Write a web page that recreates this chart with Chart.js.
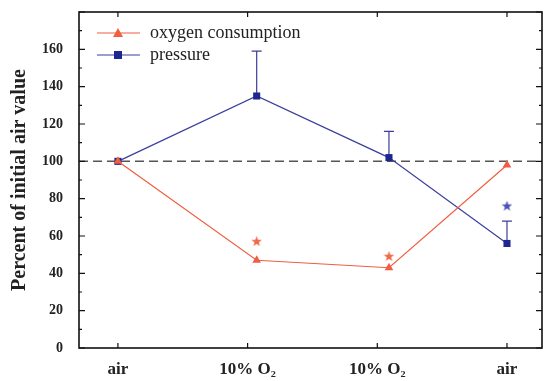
<!DOCTYPE html>
<html>
<head>
<meta charset="utf-8">
<script src="https://cdn.jsdelivr.net/npm/chart.js@4/dist/chart.umd.min.js"></script>
<style>
  html, body { margin: 0; padding: 0; background: #fff; }
  #wrap { width: 547px; height: 381px; position: relative; }
</style>
</head>
<body>
<div id="wrap"><canvas id="c" width="547" height="381"></canvas></div>
<script>
// Conditions along the x axis and where each measurement sits
const categories = ['air', '10% O\u2082', '10% O\u2082', 'air'];
const sampleX = [1, 2.07, 3.09, 4];

// Percent of initial air value
const oxygenConsumption = [100, 47, 43, 98];
const pressure = [100, 135, 102, 56];
const pressureUpperError = [0, 24, 14, 12];

// Significance markers (value at which the star is placed)
const oxygenStars = [null, 57, 49, null];
const pressureStars = [null, null, null, 76];

const yTicks = [0, 20, 40, 60, 80, 100, 120, 140, 160];
const baseline = 100;

const RED = '#ef5e40';
const BLUE = '#3b3f9c';
const BLUE_MARK = '#1e2690';
const SERIF = '"Liberation Serif", "DejaVu Serif", serif';

function starImage(color, size) {
  const cv = document.createElement('canvas');
  cv.width = size; cv.height = size;
  const g = cv.getContext('2d');
  const cx = size / 2, cy = size / 2, R = size / 2, r = R * 0.42;
  g.beginPath();
  for (let i = 0; i < 10; i++) {
    const a = -Math.PI / 2 + i * Math.PI / 5;
    const rr = i % 2 === 0 ? R : r;
    g.lineTo(cx + rr * Math.cos(a), cy + rr * Math.sin(a));
  }
  g.closePath();
  g.fillStyle = color;
  g.fill();
  return cv;
}

const toPoints = (xs, ys) => xs.map((x, i) => ({ x, y: ys[i] })).filter(p => p.y !== null);

// dashed reference line at the initial value
const baselinePlugin = {
  id: 'baseline',
  beforeDatasetsDraw(chart) {
    const { ctx, chartArea, scales } = chart;
    const y = scales.y.getPixelForValue(baseline);
    ctx.save();
    ctx.strokeStyle = '#555';
    ctx.lineWidth = 1.5;
    ctx.setLineDash([9, 5]);
    ctx.beginPath();
    ctx.moveTo(chartArea.left, y);
    ctx.lineTo(chartArea.right, y);
    ctx.stroke();
    ctx.restore();
  }
};

// upper error bars on the pressure series
const errorBarPlugin = {
  id: 'errorBars',
  beforeDatasetsDraw(chart) {
    const { ctx, scales } = chart;
    ctx.save();
    ctx.strokeStyle = BLUE;
    ctx.lineWidth = 1.2;
    pressure.forEach((v, i) => {
      const e = pressureUpperError[i];
      if (!e) return;
      const x = scales.x.getPixelForValue(sampleX[i]);
      const y0 = scales.y.getPixelForValue(v);
      const y1 = scales.y.getPixelForValue(v + e);
      ctx.beginPath();
      ctx.moveTo(x, y0); ctx.lineTo(x, y1);
      ctx.moveTo(x - 5, y1); ctx.lineTo(x + 5, y1);
      ctx.stroke();
    });
    ctx.restore();
  }
};

// boxed frame with inward ticks on all four sides
const framePlugin = {
  id: 'frame',
  afterDraw(chart) {
    const { ctx, chartArea: a, scales } = chart;
    ctx.save();
    ctx.strokeStyle = '#111';
    ctx.lineWidth = 1.6;
    ctx.strokeRect(a.left, a.top, a.right - a.left, a.bottom - a.top);
    ctx.lineWidth = 1.2;
    ctx.beginPath();
    for (let v = 0; v <= 180; v += 10) {
      const y = scales.y.getPixelForValue(v);
      const len = v % 20 === 0 ? 6 : 3;
      ctx.moveTo(a.left, y); ctx.lineTo(a.left + len, y);
      ctx.moveTo(a.right, y); ctx.lineTo(a.right - len, y);
    }
    [1, 2, 3, 4].forEach(v => {
      const x = scales.x.getPixelForValue(v);
      ctx.moveTo(x, a.bottom); ctx.lineTo(x, a.bottom - 5);
      ctx.moveTo(x, a.top); ctx.lineTo(x, a.top + 5);
    });
    ctx.stroke();
    ctx.restore();
  }
};

// legend drawn inside the plot area: line sample, marker, label
const insideLegendPlugin = {
  id: 'insideLegend',
  afterDraw(chart) {
    const { ctx, chartArea: a } = chart;
    const entries = [
      { label: 'oxygen consumption', color: RED, mark: 'tri', fill: RED },
      { label: 'pressure', color: BLUE, mark: 'sq', fill: BLUE_MARK }
    ];
    ctx.save();
    entries.forEach((e, i) => {
      const y = a.top + 21 + i * 22;
      const x0 = a.left + 18, x1 = a.left + 61, xm = a.left + 39;
      ctx.strokeStyle = e.color;
      ctx.lineWidth = 1.2;
      ctx.beginPath();
      ctx.moveTo(x0, y); ctx.lineTo(x1, y);
      ctx.stroke();
      ctx.fillStyle = e.fill;
      ctx.beginPath();
      if (e.mark === 'tri') {
        ctx.moveTo(xm, y - 5); ctx.lineTo(xm + 5, y + 4); ctx.lineTo(xm - 5, y + 4);
        ctx.closePath();
      } else {
        ctx.rect(xm - 4, y - 4, 8, 8);
      }
      ctx.fill();
      ctx.fillStyle = '#222';
      ctx.font = '18px ' + SERIF;
      ctx.textBaseline = 'middle';
      ctx.fillText(e.label, a.left + 71, y);
    });
    ctx.restore();
  }
};

new Chart(document.getElementById('c'), {
  type: 'line',
  data: {
    datasets: [
      {
        label: 'oxygen consumption',
        data: toPoints(sampleX, oxygenConsumption),
        borderColor: RED,
        backgroundColor: RED,
        borderWidth: 1.2,
        pointStyle: 'triangle',
        pointRadius: 5,
        pointBorderWidth: 0,
        tension: 0
      },
      {
        label: 'pressure',
        data: toPoints(sampleX, pressure),
        borderColor: BLUE,
        backgroundColor: BLUE_MARK,
        borderWidth: 1.2,
        pointStyle: 'rect',
        pointRadius: 5,
        pointBorderWidth: 0,
        tension: 0
      },
      {
        label: 'oxygen significance',
        data: toPoints(sampleX, oxygenStars),
        showLine: false,
        pointStyle: starImage('#ee6a48', 11)
      },
      {
        label: 'pressure significance',
        data: toPoints(sampleX, pressureStars),
        showLine: false,
        pointStyle: starImage('#4a50b8', 11)
      }
    ]
  },
  options: {
    responsive: false,
    animation: false,
    layout: { padding: { top: 12, right: 4, left: 0, bottom: 0 } },
    plugins: { legend: { display: false }, tooltip: { enabled: false } },
    scales: {
      x: {
        type: 'linear',
        min: 0.7,
        max: 4.27,
        afterBuildTicks(scale) {
          scale.ticks = categories.map((_, i) => ({ value: i + 1 }));
        },
        afterFit(scale) { scale.height = 33; },
        grid: { display: false },
        border: { display: false },
        ticks: {
          padding: 3,
          color: '#222',
          font: { family: SERIF, size: 17, weight: 'bold' },
          callback: (v) => categories[Math.round(v) - 1],
          maxRotation: 0
        }
      },
      y: {
        min: 0,
        max: 180,
        afterBuildTicks(scale) {
          scale.ticks = yTicks.map(v => ({ value: v }));
        },
        afterFit(scale) {
          scale.width = 79;
          scale.paddingTop = 0;
          scale.paddingBottom = 0;
        },
        grid: { display: false },
        border: { display: false },
        ticks: {
          padding: 8,
          color: '#222',
          font: { family: SERIF, size: 14, weight: 'bold' }
        },
        title: {
          display: true,
          text: 'Percent of initial air value',
          color: '#222',
          font: { family: SERIF, size: 20, weight: 'bold' },
          padding: { top: 8, bottom: 0 }
        }
      }
    }
  },
  plugins: [baselinePlugin, errorBarPlugin, framePlugin, insideLegendPlugin]
});
</script>
</body>
</html>
